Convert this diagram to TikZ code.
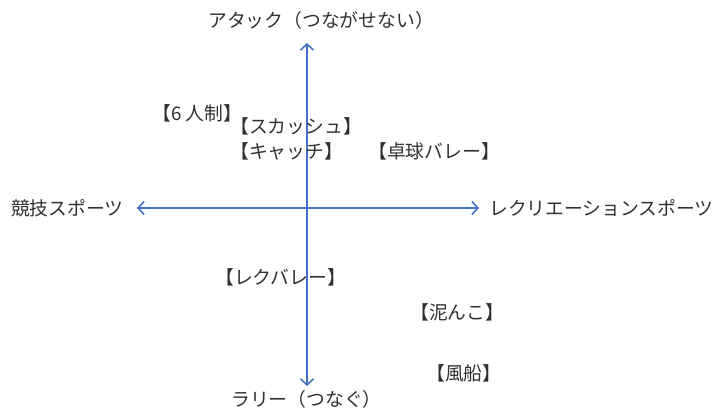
\documentclass[tikz,border=0pt]{standalone}
\usepackage{fontspec}
\newfontfamily\jp{Noto Sans CJK JP}
\usetikzlibrary{arrows.meta}
\definecolor{axisblue}{HTML}{4472C4}
\definecolor{txt}{HTML}{303030}
\begin{document}
\begin{tikzpicture}[x=1pt,y=-1pt,
  lbl/.style={anchor=west,inner sep=0pt,text=txt,font=\jp\fontsize{18.8}{19}\selectfont},
  axisline/.style={draw=axisblue,line width=1.8pt,-{Straight Barb[length=6pt,width=13pt,line width=1.6pt]}}]
\useasboundingbox (0,0) rectangle (718,414);
\coordinate (c) at (307,208);
\coordinate (top) at (307,43);
\coordinate (bot) at (307,386);
\coordinate (lft) at (137,208);
\coordinate (rgt) at (479,208);
\draw[axisline] (c) -- (top);
\draw[axisline] (c) -- (bot);
\draw[axisline] (c) -- (lft);
\draw[axisline] (c) -- (rgt);
\node[lbl] (attack) at (208,20) {アタック（つながせない）};
\node[lbl] (rally) at (231,399) {ラリー（つなぐ）};
\node[lbl] (kyogi) at (11,208) {競技スポーツ};
\node[lbl] (recre) at (489,208) {レクリエーションスポーツ};
\node[lbl] (six) at (152,113) {【6 人制】};
\node[lbl] (squash) at (230,126) {【スカッシュ】};
\node[lbl] (catch) at (230,151) {【キャッチ】};
\node[lbl] (takkyu) at (368,151) {【卓球バレー】};
\node[lbl] (rekuba) at (215,277) {【レクバレー】};
\node[lbl] (doronko) at (410,312) {【泥んこ】};
\node[lbl] (fusen) at (426,373) {【風船】};
\end{tikzpicture}
\end{document}
